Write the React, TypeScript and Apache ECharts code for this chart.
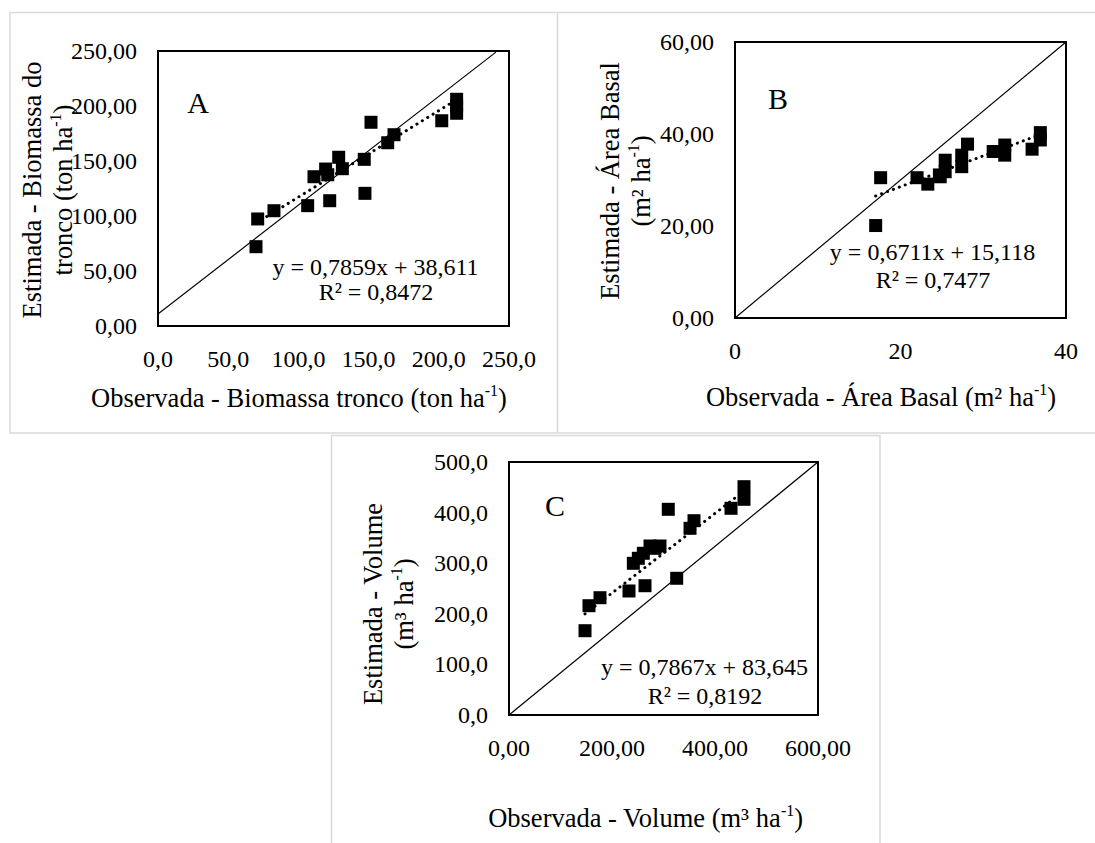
import React, { useEffect, useRef } from 'react';
import * as echarts from 'echarts';

// ---------- Data ----------
// Panel A – Biomassa do tronco (ton ha-1)
const obsA = [69.8, 71.0, 82.6, 106.6, 111.1, 119.4, 120.9, 128.7, 131.3, 122.3, 147.4, 146.9, 151.7, 163.6, 168.1, 202.1, 212.7, 212.7, 212.7];
const estA = [72.1, 97.3, 104.8, 109.4, 135.7, 142.7, 137.5, 153.4, 143.0, 113.9, 120.6, 151.5, 185.2, 166.6, 173.9, 186.6, 206.1, 200.0, 193.4];
const coefA = { slope: 0.7859, intercept: 38.611 };
const refLineA = [[-10, 1], [240.7, 249]];
const eqA = ['y = 0,7859x + 38,611', 'R² = 0,8472'];

// Panel B – Área Basal (m² ha-1)
const obsB = [17.0, 17.6, 22.0, 23.3, 24.7, 24.8, 25.4, 25.4, 27.4, 27.4, 28.1, 31.2, 32.6, 32.6, 35.9, 36.9, 36.9];
const estB = [20.1, 30.5, 30.5, 29.1, 31.1, 30.7, 34.3, 31.8, 35.4, 32.9, 37.8, 36.2, 37.6, 35.4, 36.7, 40.3, 38.7];
const coefB = { slope: 0.6711, intercept: 15.118 };
const refLineB = [[0, 0], [40, 60]];
const eqB = ['y = 0,6711x + 15,118', 'R² = 0,7477'];

// Panel C – Volume (m³ ha-1)
const obsC = [147.6, 155.3, 176.7, 233.0, 241.4, 251.1, 264.1, 260.8, 273.8, 283.5, 293.2, 309.3, 325.6, 351.5, 359.2, 431.1, 456.3, 456.3];
const estC = [166.6, 216.0, 231.8, 245.1, 299.8, 309.7, 255.5, 319.6, 334.0, 329.4, 334.0, 406.5, 270.2, 369.0, 384.0, 408.5, 451.2, 426.3];
const coefC = { slope: 0.7867, intercept: 83.645 };
const refLineC = [[0, 0], [600, 500]];
const eqC = ['y = 0,7867x + 83,645', 'R² = 0,8192'];

// Axis ranges / ticks
const axA = { xMax: 250, xStep: 50, yMax: 250, yStep: 50, xDec: 1, yDec: 2 };
const axB = { xMax: 40, xStep: 20, yMax: 60, yStep: 20, xDec: 0, yDec: 2 };
const axC = { xMax: 600, xStep: 200, yMax: 500, yStep: 100, xDec: 2, yDec: 1 };

const FONT = "'Times New Roman', 'Liberation Serif', serif";

const fmt = (dec: number) => (v: number) => v.toFixed(dec).replace('.', ',');

function trend(xs: number[], c: { slope: number; intercept: number }) {
  const lo = Math.min(...xs);
  const hi = Math.max(...xs);
  return [[lo, c.slope * lo + c.intercept], [hi, c.slope * hi + c.intercept]];
}

const supRich = {
  sup: { fontSize: 16, fontFamily: FONT, color: '#000', verticalAlign: 'top', lineHeight: 18 },
};

function txt(text: string, x: number, y: number, size: number, rotate = false) {
  return {
    type: 'text',
    x,
    y,
    rotation: rotate ? Math.PI / 2 : 0,
    silent: true,
    style: {
      text,
      fontFamily: FONT,
      fontSize: size,
      fill: '#000',
      align: 'center',
      verticalAlign: 'middle',
      lineHeight: 31,
      rich: supRich,
    },
  };
}

export default function App() {
  const ref = useRef<HTMLDivElement>(null);
  useEffect(() => {
    if (!ref.current) return;
    const chart = echarts.init(ref.current, undefined, { renderer: 'svg' });

    const gridBase = { show: true, borderColor: '#000', borderWidth: 2, backgroundColor: 'transparent', containLabel: false };
    const mkX = (i: number, a: typeof axA) => ({
      type: 'value', gridIndex: i, min: 0, max: a.xMax, interval: a.xStep,
      axisLine: { show: false }, axisTick: { show: false }, splitLine: { show: false },
      axisLabel: { fontFamily: FONT, fontSize: 24, color: '#000', margin: 21, formatter: fmt(a.xDec) },
    });
    const mkY = (i: number, a: typeof axA) => ({
      type: 'value', gridIndex: i, min: 0, max: a.yMax, interval: a.yStep,
      axisLine: { show: false }, axisTick: { show: false }, splitLine: { show: false },
      axisLabel: { fontFamily: FONT, fontSize: 24, color: '#000', margin: 21, formatter: fmt(a.yDec) },
    });

    const panelSeries = (i: number, xs: number[], ys: number[], c: any, refLine: number[][]) => [
      {
        type: 'line', xAxisIndex: i, yAxisIndex: i, data: refLine, symbol: 'none', clip: false,
        lineStyle: { color: '#000', width: 1.2 }, silent: true,
      },
      {
        type: 'scatter', xAxisIndex: i, yAxisIndex: i, symbol: 'rect', symbolSize: 13,
        itemStyle: { color: '#000', opacity: 1 }, data: xs.map((x, k) => [x, ys[k]]),
      },
      {
        type: 'line', xAxisIndex: i, yAxisIndex: i, data: trend(xs, c), symbol: 'none',
        lineStyle: { color: '#000', width: 3, type: [0.1, 6.2], cap: 'round' }, silent: true, z: 5,
      },
    ];

    chart.setOption({
      animation: false,
      backgroundColor: '#fff',
      grid: [
        { ...gridBase, left: 158, top: 51, width: 351, height: 275 },
        { ...gridBase, left: 735, top: 42, width: 331, height: 276 },
        { ...gridBase, left: 509, top: 462, width: 309, height: 253 },
      ],
      xAxis: [mkX(0, axA), mkX(1, axB), mkX(2, axC)],
      yAxis: [mkY(0, axA), mkY(1, axB), mkY(2, axC)],
      series: [
        ...panelSeries(0, obsA, estA, coefA, refLineA),
        ...panelSeries(1, obsB, estB, coefB, refLineB),
        ...panelSeries(2, obsC, estC, coefC, refLineC),
      ],
      graphic: [
        // panel frames
        { type: 'rect', silent: true, shape: { x: 10, y: 12.5, width: 1100, height: 420.5 }, style: { fill: 'none', stroke: '#d9d9d9', lineWidth: 1.5 } },
        { type: 'line', silent: true, shape: { x1: 557.5, y1: 12.5, x2: 557.5, y2: 433 }, style: { stroke: '#d9d9d9', lineWidth: 1.5 } },
        { type: 'rect', silent: true, shape: { x: 331.5, y: 435.5, width: 548.5, height: 420 }, style: { fill: 'none', stroke: '#d9d9d9', lineWidth: 1.5 } },
        // panel letters
        txt('A', 198, 102, 30),
        txt('B', 778, 98, 30),
        txt('C', 555, 505, 30),
        // equations
        txt(eqA[0], 375.5, 266.5, 24), txt(eqA[1], 376, 292, 24),
        txt(eqB[0], 932.5, 252, 24), txt(eqB[1], 933, 280, 24),
        txt(eqC[0], 704.5, 667, 24), txt(eqC[1], 705, 696, 24),
        // axis titles
        txt('Observada - Biomassa tronco (ton ha{sup|-1})', 299, 398, 26.5),
        txt('Estimada - Biomassa do\ntronco (ton ha{sup|-1})', 47.5, 190, 26.5, true),
        txt('Observada - Área Basal (m² ha{sup|-1})', 881, 397, 26.5),
        txt('Estimada - Área Basal\n(m² ha{sup|-1})', 625, 181, 26.5, true),
        txt('Observada - Volume (m³ ha{sup|-1})', 645.5, 818, 26.5),
        txt('Estimada - Volume\n(m³ ha{sup|-1})', 388, 604, 26.5, true),
      ],
    });
    return () => chart.dispose();
  }, []);
  return (
    <div
      ref={ref}
      style={{ position: 'fixed', left: 0, top: 0, width: 1095, height: 843, background: '#fff' }}
    />
  );
}
